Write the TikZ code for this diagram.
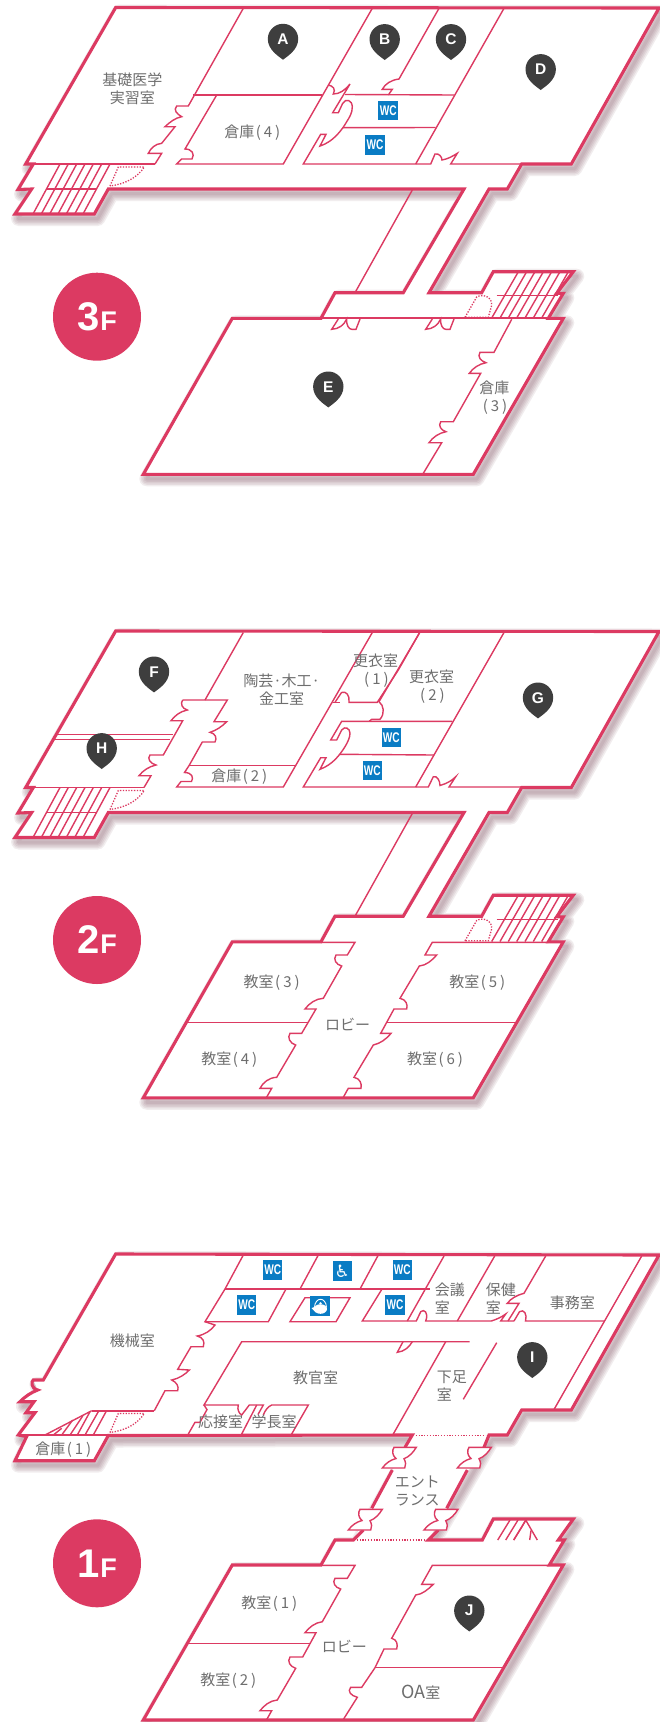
\documentclass[tikz,border=0pt]{standalone}
\usepackage{fontspec}
\usepackage{graphicx}
\newfontfamily\cjk{Noto Sans CJK JP}
\newfontfamily\arialb{Liberation Sans}[BoldFont={Liberation Sans Bold}]
\newfontfamily\djv{DejaVu Sans}
\definecolor{wallc}{HTML}{DC3A62}
\definecolor{shadowc}{HTML}{6E3A4C}
\definecolor{labelc}{HTML}{6E6E6E}
\definecolor{pinc}{HTML}{3E3E3E}
\definecolor{wcc}{HTML}{0A7CC4}
\tikzset{
  outerwall/.style={draw=wallc,line width=3.1pt,miter limit=8},
  wall/.style={draw=wallc,line width=1.4pt},
  midwall/.style={draw=wallc,line width=1.8pt},
  dotwall/.style={draw=wallc,line width=1.3pt,dash pattern=on 1.3pt off 1.5pt},
  lbl/.style={font=\cjk\fontsize{15}{18}\selectfont,text=labelc,align=center,inner sep=0pt},
  lbll/.style={font=\cjk\fontsize{15}{18}\selectfont,text=labelc,align=left,inner sep=0pt,anchor=west},
  pinlbl/.style={font=\arialb\bfseries\fontsize{15.5}{16}\selectfont,text=white,inner sep=0pt},
  wcbox/.style={fill=wcc,minimum size=19.5pt,inner sep=0pt,text=white,font=\arialb\bfseries\fontsize{14}{14}\selectfont},
  floorbadge/.style={circle,fill=wallc,minimum size=88pt,inner sep=0pt,text=white,font=\arialb\bfseries},
}
\newcommand\paren[1]{\kern1.5pt(\kern3pt #1\kern3pt)}
\newcommand\castshadow[1]{%
  \begin{scope}[shift={(3.5,4.5)}]
    \foreach \w in {15,12,9,6,3}{\draw[shadowc,opacity=0.09,line width=\w pt,line join=round] #1;}
  \end{scope}}
\newcommand\pinmark[3]{%
  \begin{scope}[shift={(#1,#2)}]
    \fill[pinc] (0,20.7) .. controls (-4,17.5) and (-15.2,11) .. (-15.2,0)
      .. controls (-15.2,-8.4) and (-8.4,-15.2) .. (0,-15.2)
      .. controls (8.4,-15.2) and (15.2,-8.4) .. (15.2,0)
      .. controls (15.2,11) and (4,17.5) .. cycle;
    \node[pinlbl] (pin#3) at (0,0) {#3};
  \end{scope}}
\newcommand\wcmark[3]{\node[wcbox] (wc#3) at (#1,#2) {\scalebox{.72}[1]{WC}};}
\newcommand\doorwing[2]{%
  \begin{scope}[shift={(#1,#2)}]
    \path[midwall,fill=white,line width=1.4pt] (0,0) -- (22.3,0) .. controls (19,5.5) and (15,9.5) .. (10,11.4)
      .. controls (12,15) and (12,18) .. (10.7,20.7) -- (-11.7,20.7)
      .. controls (-8,15.5) and (-3,12.5) .. (2,11.2) .. controls (-2,8) and (-2,3) .. (0,0) -- cycle;
  \end{scope}}
% shared parts of 3F and 2F
\newcommand\upperoutline{(115.7,7.5) -- (659,8) -- (571.3,164) -- (521.7,164) -- (507.3,189) -- (489,189) -- (429,292.7) -- (481.7,292.7) -- (493.3,271.7) -- (573.3,271.7) -- (556.7,293.3) -- (563.3,293.3) -- (548.3,318.3) -- (563.3,318.3) -- (473.3,474.3) -- (143.3,474.3) -- (232.3,318.3) -- (321,318.3) -- (335,292.7) -- (403.3,292.7) -- (464,189) -- (108.3,189) -- (94.3,214) -- (15,214) -- (31.7,189) -- (18,189.5) -- (33.3,164) -- (25.7,164) -- cycle}
\newcommand\stairsleft{%
  \foreach \t in {60,68.3,76.7,85,93.3,101.7,110}{\pgfmathsetmacro\b{\t-27}\draw[wall] (\t,164) -- (\b,214);}
  \draw[wall] (46.7,189) -- (96.7,189);}
\newcommand\dotdoorleft{%
  \draw[dotwall] (110,186) -- (118.3,167) -- (144.3,167) .. controls (137,178) and (125,184) .. (110,186);}
\newcommand\stairsright{%
  \foreach \b in {491.7,500,508.3,516.7,525,533.3,541.7}{\pgfmathsetmacro\t{\b+26.5}\draw[wall] (\b,318) -- (\t,272);}
  \draw[wall] (496.7,295.7) -- (558.3,295.7);
  \draw[dotwall] (465,317.3) -- (476.7,297) .. controls (484,293) and (493,298) .. (491.5,306) -- (488.3,317.3) -- cycle;}
\begin{document}
\begin{tikzpicture}[x=1pt,y=-1pt]
\useasboundingbox (0,0) rectangle (659,1722);
\fill[white] (0,0) rectangle (659,1722);

%============= 3F
\begin{scope}
\castshadow{\upperoutline}
\path[fill=white] \upperoutline;
\stairsleft \dotdoorleft
% rooms
\draw[midwall] (25.7,164) -- (155,164);
\draw[wall] (243.3,8.3) -- (188.3,106) -- (176.7,106) .. controls (173,110) and (177,114) .. (181.7,116.7)
  .. controls (175,118) and (170,122) .. (165,126.7) -- (175,126.7) -- (161.7,143.3)
  .. controls (155,144) and (151,148) .. (148.3,153.3) -- (161.7,153.3) -- (155,164);
\draw[wall] (193.3,95) -- (321.7,95);
\draw[wall] (216.7,95) -- (185,149) .. controls (192,149) and (195,154) .. (192,159) -- (181.7,159) -- (176.7,164) -- (283.3,164) -- (372.3,8.3);
\draw[wall] (328.4,85) .. controls (333,86) and (336,89) .. (333.3,94) .. controls (340,94) and (345,90) .. (350,84)
  -- (332.7,112.7) -- (338.3,112.7) -- (342.7,103.3) .. controls (346,98) and (352,100) .. (352.3,106.7)
  .. controls (352.5,113) and (349,118) .. (346.7,121.7) .. controls (342,130) and (333,142) .. (320,146)
  -- (326,134.3) -- (320.7,134.3) -- (303.3,164) -- (430.7,164) -- (435,154) .. controls (439,153) and (442,157) .. (442,160)
  .. controls (448,159) and (453,156) .. (457.3,153.3) -- (450.7,164) -- (521.7,164);
\draw[wall] (345,94.5) -- (454,95);
\draw[wall] (342.7,127.7) -- (435.7,127.5);
\draw[wall] (439,8.3) -- (399,79) .. controls (391,80) and (385,84) .. (382.3,89.3) -- (392.3,89.3) -- (388.3,95);
\draw[wall] (504,8.3) -- (415.7,164);
\draw[wall] (412.3,190) -- (355,292.7);
% lower block
\draw[midwall] (321,318.3) -- (548.3,318.3);
\stairsright
\foreach \s in {0,94}{\begin{scope}[shift={(\s,0)}]
  \draw[wall] (338.3,319) -- (331.7,329.3) .. controls (339,329) and (344,325) .. (346.7,319)
   .. controls (346,325) and (349,329.3) .. (351.7,329.3) -- (356,329.3) -- (360,319);
\end{scope}}
\draw[wall] (511.7,319.3) -- (494,352.3) -- (480,352.3) .. controls (477,357) and (481,361) .. (486,362.7)
  .. controls (479,364) and (473,368) .. (469.3,373.3) -- (480.7,373.3) -- (453.3,421.7) -- (440.7,421.7)
  .. controls (438,426) and (441,430) .. (446,431.7) .. controls (439,433) and (433,437) .. (429,442.7) -- (441.7,442.7) -- (423.3,473.3);
\path[outerwall] \upperoutline;
% labels
\node[lbl] (l3a) at (132.3,88.3) {基礎医学\\実習室};
\node[lbl] (l3b) at (252.3,132.3) {倉庫\paren{4}};
\node[lbl] (l3c) at (494.3,398) {倉庫\\\paren{3}};
\pinmark{283}{39}{A}
\pinmark{384.7}{39.3}{B}
\pinmark{451}{39.3}{C}
\pinmark{540.7}{69.3}{D}
\pinmark{328.3}{386.7}{E}
\wcmark{388.2}{110.6}{3a}
\wcmark{375}{145}{3b}
\node[floorbadge] (f3) at (97,316.7) {\fontsize{40}{40}\selectfont 3\fontsize{27}{27}\selectfont\kern1pt F};
\end{scope}

%============= 2F
\begin{scope}[shift={(0,623.5)}]
\castshadow{\upperoutline}
\path[fill=white] \upperoutline;
\stairsleft \dotdoorleft
\draw[midwall] (25.7,164) -- (144,164);
\draw[wall] (243.3,9) -- (205,76.5);
\draw[wall] (182.7,76.5) -- (227.3,76.5) -- (214,98.2) -- (226.7,98.2) .. controls (222,103) and (216,107) .. (210,108.8)
  .. controls (216,110) and (217,115) .. (215,118.5) -- (202.3,118.5) -- (189,142.2) -- (184.5,149) .. controls (192,149) and (194,154) .. (191.5,158) -- (181,158) -- (176.7,163.5) -- (283.3,163.5) -- (372.3,9);
\draw[wall] (189,142.2) -- (295,142.2);
\draw[wall] (182.7,76.5) .. controls (180,80) and (182,85) .. (187.3,86.5) .. controls (180,88) and (175,92) .. (171,97.2) -- (182.7,97.2)
  -- (163.3,131.5) -- (150,131.5) .. controls (147,135) and (150,140) .. (156,141.5) .. controls (149,143) and (143,147) .. (139,152.2) -- (151,152.2) -- (144,164);
\draw[wall] (56.7,110.8) -- (173.3,110.8);
\draw[wall] (53.3,115.8) -- (170,115.8);
% centre
\draw[wall] (333.3,78.8) -- (340,78.8);
\draw[wall] (335,78.8) -- (341.5,69) .. controls (346,67) and (350,72) .. (349,78.8) -- (377.3,78.8) -- (398.3,46.5);
\draw[wall] (419.7,9) -- (379,78.2) .. controls (384,82) and (385,90) .. (380,95.8) -- (371.7,95.8) -- (369.3,97.8);
\draw[wall] (398.3,46.5) -- (419.7,9);
\draw[wall] (452.3,97.8) -- (341.7,97.8) -- (330.7,116.5) -- (336.7,116.5) -- (341.7,106.5) .. controls (345,102) and (350,105) .. (350,109.8)
  .. controls (350,114) and (347.5,119) .. (345,123.2) .. controls (340,131) and (333,141) .. (320,145.8) -- (326,134.2) -- (320.7,134.2) -- (303.3,163.5) -- (428.3,163.5)
  -- (433.3,153.2) .. controls (437,152) and (440,157) .. (440,162) .. controls (447,160) and (452,157) .. (455.7,153.2) -- (449,163.5) -- (521.7,163.5);
\draw[wall] (340,130.8) -- (434,131.5);
\draw[wall] (504,9) -- (415.7,163.5);
\draw[wall] (412.3,190) -- (355,292.7);
% lower block
\draw[wall] (321,318.8) -- (355,318.8) -- (347.3,331.5) -- (336,331.5) .. controls (333,336) and (336,341) .. (341.7,342.5)
  -- (323.3,374.8) .. controls (316,375) and (309,380) .. (305,385.5) -- (316,385.5) -- (301.7,409.8) -- (290,409.8)
  .. controls (287,414) and (290,420) .. (295.7,421.5) -- (276.7,453.8) .. controls (269,454) and (263,459) .. (260,464.8) -- (271.7,464.8) -- (266,474.8);
\draw[wall] (188.3,399.2) -- (308.3,399.2);
\draw[wall] (548.3,318.8) -- (432.3,318.8) -- (425,331.5) -- (436.7,331.5) .. controls (432,337) and (426,342) .. (419.3,342.5)
  -- (400,374.8) .. controls (406,376) and (408,381) .. (406.7,385.5) -- (394,385.5) -- (380.7,409.8) -- (391,409.8)
  .. controls (386,416) and (380,420) .. (373.3,421.5) -- (354,453.8) .. controls (360,455) and (362,460) .. (361,464.8) -- (348.3,464.8) -- (343.3,473.8);
\draw[wall] (386.7,399.2) -- (515.7,399.2);
\stairsright
\path[outerwall] \upperoutline;
\node[lbl] (l2a) at (281.7,66.5) {陶芸·木工·\\金工室};
\node[lbl] (l2b) at (239.3,153.2) {倉庫\paren{2}};
\node[lbl] (l2c) at (375.7,47.5) {更衣室\\\paren{1}};
\node[lbl] (l2d) at (431.7,62.8) {更衣室\\\paren{2}};
\node[lbl] (l2e) at (271.7,358.8) {教室\paren{3}};
\node[lbl] (l2f) at (477.3,358.8) {教室\paren{5}};
\node[lbl] (l2g) at (229.3,436.5) {教室\paren{4}};
\node[lbl] (l2h) at (435,436.5) {教室\paren{6}};
\node[lbl] (l2i) at (347.7,400.5) {ロビー};
\pinmark{154}{48.2}{F}
\pinmark{101.7}{124.8}{H}
\pinmark{538}{74.2}{G}
\wcmark{391.3}{114.2}{2a}
\wcmark{372.3}{147.2}{2b}
\node[floorbadge] (f2) at (97,316.5) {\fontsize{40}{40}\selectfont 2\fontsize{27}{27}\selectfont\kern1pt F};
\end{scope}

%============= 1F
\begin{scope}[shift={(0,1246.5)}]
\newcommand\lowerfill{(115.7,7.5) -- (659,8.5) -- (571.3,163.5) -- (521.7,163.5) -- (507.3,188.5) -- (489,188.5) -- (428.3,293.5) -- (482.3,293.5) -- (493.3,272.5) -- (573.3,272.5) -- (558.3,293.5) -- (564.3,293.5) -- (549.3,318.5) -- (563.3,318.5) -- (473.3,473.5) -- (143.3,473.5) -- (232.3,318.5) -- (321,318.5) -- (335,293.5) -- (353.3,293.5) -- (412.3,188.5) -- (108.3,189) -- (94.3,214.2) -- (15,214.2) -- (26.7,190) -- (18.3,188.5) -- (35,166.2) -- (26,166.2) -- (34,155.2) -- (20,155.2) -- (37.7,143.5) -- (33.3,133.5) -- (43.3,133.5) -- cycle}
\castshadow{\lowerfill}
\path[fill=white] \lowerfill;
% left stairs
\draw[wall] (91.7,164.2) -- (45,188.5);
\draw[wall] (53.3,188.5) -- (61.7,181.8);
\draw[wall] (61.7,188.5) -- (72.7,173.5);
\draw[wall] (70,188.5) -- (82.7,169.5);
\draw[wall] (77.3,188.5) -- (90,165.2);
\draw[wall] (85,188.5) -- (98.3,165.2);
\draw[wall] (93.3,188.5) -- (106,165.2);
\dotdoorleft
\draw[midwall] (18.3,188.5) -- (108.3,188.5);
% machine room wall
\draw[midwall] (91.7,164.2) -- (154.3,164.2);
\draw[wall] (154.3,164.2) -- (165,144.2) -- (177.7,144.2) .. controls (179,140) and (177,136) .. (171.7,133.5)
  .. controls (179,132) and (185,128) .. (189.3,123.5) -- (177.7,122.8) -- (191,100.2) -- (203.3,100.2)
  .. controls (205,95) and (203,91) .. (197.3,89.5) .. controls (205,88) and (211,84) .. (215,78.5) -- (205,75.2);
% top row rooms
\draw[wall] (243.3,8.5) -- (225,42.5) -- (205,75.2) -- (268.3,75.2) -- (286,42.5);
\draw[wall] (225,42.5) -- (430,42.5);
\draw[wall] (318.3,8.5) -- (300,42.5);
\draw[wall] (378.3,8.5) -- (360,42.5);
\draw[wall] (305,51.2) -- (350,51.2) -- (336,75.2) -- (290,75.2) -- cycle;
\draw[wall] (381.7,43) -- (362.3,74.5) -- (416.3,74.5) -- (420.7,65.2) .. controls (424,62) and (429,66) .. (425.7,74.5) -- (491.3,74.5)
  .. controls (496,73) and (501,71) .. (505.7,67.5) -- (500.7,74.5) -- (514,74.5);
\draw[wall] (444,9.5) -- (407.3,74.5);
\draw[wall] (494.7,9.5) -- (457.3,74.5);
\draw[wall] (545.7,9.5) -- (524,46.8) .. controls (516,49) and (511,52) .. (507.3,56.8) -- (519,56.8) -- (508,74.5);
\draw[wall] (514,74.5) -- (519.5,65.2) .. controls (524,62) and (527.5,68) .. (525.5,74.5) -- (604,74.5);
\draw[wall] (641.7,9.5) -- (554,163);
% staff room
\draw[wall] (469.7,95.2) -- (241.7,95.2) -- (204,158.5) -- (238.3,158.5) .. controls (237,163) and (239,167) .. (241.7,168.5) -- (249.3,158.5) -- (263.3,158.5) -- (258,168);
\draw[wall] (256.7,158.5) -- (241.7,187.5);
\draw[wall] (263.3,168.5) .. controls (265,164) and (268,160) .. (271.7,158.5) -- (308.3,158.5) -- (291.7,187.5);
\draw[wall] (204,158.5) -- (207,163) -- (200,175.8) -- (195,175.8) -- (188.3,187.5);
\draw[wall] (403,95.2) -- (397.3,105.8) .. controls (404,105) and (409,101) .. (412.3,95.2);
\draw[wall] (445.7,95.2) -- (393,188);
\draw[wall] (496.7,96.2) -- (463.3,152.8);
\draw[dotwall,line width=1.5pt] (415.7,189.2) -- (485.7,189.2);
% outer walls
\path[outerwall] (405,200.8) -- (412.3,188.5) -- (108.3,189) -- (94.3,214.2) -- (15,214.2) -- (26.7,190) -- (18.3,188.5) -- (35,166.2) -- (26,166.2) -- (34,155.2) -- (20,155.2)
  .. controls (25,150) and (31,146) .. (37.7,143.5) .. controls (31,142) and (31,135) .. (33.3,133.5) -- (43.3,133.5) -- (115.7,7.5) -- (659,8.5) -- (571.3,163.5) -- (521.7,163.5) -- (507.3,188.5) -- (489,188.5) -- (484,200.8);
\path[outerwall] (392.3,223.5) -- (371.7,261.8);
\path[outerwall] (467.3,223.5) -- (446.7,261.8);
\path[outerwall] (363.3,283.5) -- (353.3,293.5) -- (335,293.5) -- (321,318.5) -- (232.3,318.5) -- (143.3,473.5) -- (473.3,473.5) -- (563.3,318.5) -- (549.3,318.5) -- (564.3,293.5) -- (558.3,293.5) -- (573.3,272.5) -- (493.3,272.5) -- (482.3,293.5) -- (428.3,293.5) -- (438.3,283.5);
\doorwing{360}{262.8}
\doorwing{435.7}{262.8}
\doorwing{394}{200.8}
\doorwing{469}{200.8}
\draw[dotwall,line width=1.5pt] (356.7,293.5) -- (426.7,293.5);
% right stairs
\foreach \i in {0,8,16}{\draw[wall] ({497.7+\i},293.5) -- ({510+\i},273.5);}
\draw[wall] (525.7,273.5) -- (521.7,280.5) -- (513.7,293.5);
\draw[wall] (525.7,273.5) -- (537.3,293.5);
\draw[wall] (529.7,293.5) -- (531,284);
% lower block
\draw[wall] (321,318.9) -- (355,318.9) -- (347.3,331.8) -- (335,331.8) .. controls (332,336) and (335,341) .. (340.7,342.5)
  -- (322.3,375.2) .. controls (315,376) and (309,381) .. (305,386.2) -- (316,386.2) -- (302.7,410.5) -- (290,410.5)
  .. controls (287,415) and (290,420) .. (295.7,421.8) -- (277.3,453.5) .. controls (270,454) and (264,459) .. (260,464.2) -- (271.7,464.2) -- (266.7,473);
\draw[wall] (189.3,397.2) -- (310,397.2);
\draw[wall] (549.3,318.9) -- (432.3,318.9) -- (421.7,337.8) -- (433.3,337.8) .. controls (428,343) and (422,348) .. (415.7,348.5)
  -- (391.7,391.8) .. controls (397,393) and (398,398) .. (396.7,402.5) -- (384,402.5) -- (375,421.2) -- (361.7,440.8) -- (350.7,440.8)
  .. controls (347,445) and (351,449) .. (357.3,450.8) -- (343.3,473);
\draw[wall] (375,421.2) -- (502.3,421.2);
% labels
\node[lbl] (l1a) at (132.3,94.2) {機械室};
\node[lbl] (l1b) at (315.7,131.8) {教官室};
\node[lbl] (l1c) at (220.7,175.2) {応接室};
\node[lbl] (l1d) at (274,175.2) {学長室};
\node[lbl] (l1e) at (63.3,202.8) {倉庫\paren{1}};
\node[lbll] (l1f) at (434.7,51.6) {会議\\室};
\node[lbll] (l1g) at (485.7,51.6) {保健\\室};
\node[lbll] (l1h) at (436.7,139.3) {下足\\室};
\node[lbl] (l1i) at (572.3,56.2) {事務室};
\node[lbl] (l1j) at (417.3,244.7) {エント\\ランス};
\node[lbl] (l1k) at (269.3,357.5) {教室\paren{1}};
\node[lbl] (l1l) at (228.3,434.2) {教室\paren{2}};
\node[lbl] (l1m) at (344.3,399.5) {ロビー};
\node[lbl] (l1n) at (420.7,445.2) {{\fontsize{18}{18}\selectfont OA}室};
\pinmark{532.3}{110.8}{I}
\pinmark{469.3}{364.2}{J}
\wcmark{272.7}{23.5}{1a}
\wcmark{246.7}{58.5}{1b}
\wcmark{402.3}{23.5}{1c}
\wcmark{395}{58.5}{1d}
\node[wcbox,font=\djv\fontsize{17}{17}\selectfont] (wheel) at (342.3,24.5) {♿};
\node[wcbox] (tea) at (320,59.5) {};
\fill[white] (320.5,62.5) ellipse [x radius=6.5pt,y radius=4.8pt];
\fill[white] (316,60) -- (311.5,61.5) -- (316,66) -- cycle;
\fill[white] (320.5,56.8) ellipse [x radius=1.5pt,y radius=1.1pt];
\draw[white,line width=.9pt] (314.5,61) .. controls (315,50) and (326,50) .. (326.5,61);
\node[floorbadge] (f1) at (97,316.8) {\fontsize{40}{40}\selectfont 1\fontsize{27}{27}\selectfont\kern1pt F};
\end{scope}
\end{tikzpicture}
\end{document}
